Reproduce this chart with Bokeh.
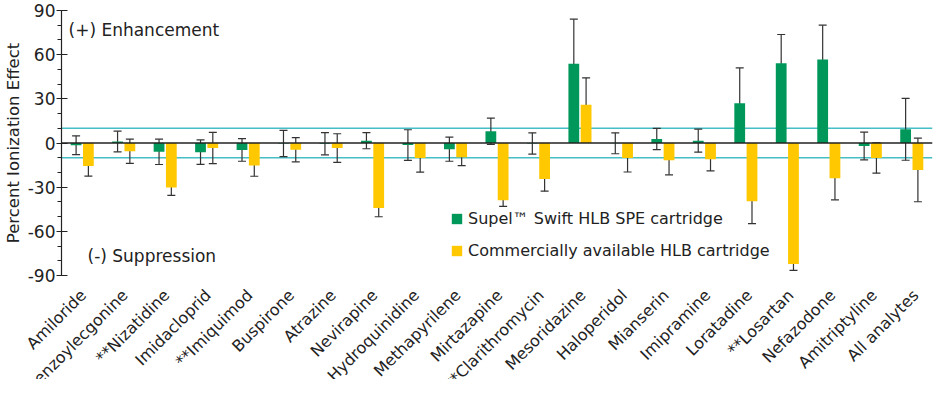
import math
from bokeh.plotting import figure
from bokeh.models import (ColumnDataSource, Whisker, TeeHead, Span, Label, Legend,
                          LegendItem, FixedTicker, Range1d)
from bokeh.core.properties import value
from bokeh.transform import dodge
from bokeh.embed import file_html
from bokeh.resources import INLINE

cats = ["Amiloride", "Benzoylecgonine", "**Nizatidine", "Imidacloprid", "**Imiquimod",
        "Buspirone", "Atrazine", "Nevirapine", "Hydroquinidine", "Methapyrilene",
        "Mirtazapine", "**Clarithromycin", "Mesoridazine", "Haloperidol", "Mianserin",
        "Imipramine", "Loratadine", "**Losartan", "Nefazodone", "Amitriptyline",
        "All analytes"]
supel = [-1.5, 1, -6, -6.2, -4.7, -0.3, -0.5, 1.6, -1.4, -4.2, 8, -0.3, 53.8,
         -0.2, 2.7, 1.6, 27, 54.2, 56.8, -2, 9.3]
supel_err = [6.4, 7, 8.6, 8.3, 7.7, 8.9, 7.5, 5.5, 10.4, 8.2, 8.9, 7.2, 30.3,
             7.1, 7.2, 7.8, 24, 19.5, 23.2, 9.4, 21]
comm = [-15.7, -5.6, -30.3, -3.4, -15.3, -4.6, -3.4, -44.1, -10.2, -9.6, -38.9,
        -24.4, 26, -10.2, -11.7, -11, -39.5, -82.2, -24, -10.2, -18.3]
comm_err = [6.8, 8.3, 5.3, 10.6, 7.3, 8.2, 9.7, 6, 9.6, 5.8, 4.2, 8.3, 18.3,
            9.5, 9.9, 8, 15.2, 4.3, 14.6, 10.3, 21.6]
y_ticks = [-90, -60, -30, 0, 30, 60, 90]
y_tick_labels = ["-90", "-60", "-30", "0", "30", "60", "90"]
y_minor = [-80, -70, -50, -40, -20, -10, 10, 20, 40, 50, 70, 80]
series_names = ["Supel\u2122 Swift HLB SPE cartridge", "Commercially available HLB cartridge"]

GREEN = "#00985A"
YELLOW = "#FFC800"
CYAN = "#45BEC4"
FONT = "DejaVu Sans"
INK = "#222222"
W = 934
LEFT = 58
RIGHT = 2
TOP_H = 285
LAB_H = 94

src = ColumnDataSource(dict(
    cats=cats, supel=supel, comm=comm,
    s_up=[v + e for v, e in zip(supel, supel_err)],
    s_lo=[v - e for v, e in zip(supel, supel_err)],
    c_up=[v + e for v, e in zip(comm, comm_err)],
    c_lo=[v - e for v, e in zip(comm, comm_err)],
))

p = figure(x_range=cats, y_range=(-90, 90), width=W, height=TOP_H,
           x_axis_location=None,
           output_backend="svg", toolbar_location=None,
           min_border_top=10, min_border_right=RIGHT, min_border_left=LEFT,
           min_border_bottom=10)
p.outline_line_color = None
p.xgrid.grid_line_color = None
p.ygrid.grid_line_color = None
p.x_range.range_padding = 0

# +/-10 reference lines
for loc in (10, -10):
    p.add_layout(Span(location=loc, dimension="width", line_color=CYAN,
                      line_width=1.5, level="underlay"))

off = 0.148
bw = 0.26
r1 = p.vbar(x=dodge("cats", -off, range=p.x_range), top="supel", bottom=0, width=bw,
            source=src, fill_color=GREEN, line_color=None)
r2 = p.vbar(x=dodge("cats", off, range=p.x_range), top="comm", bottom=0, width=bw,
            source=src, fill_color=YELLOW, line_color=None)

p.add_layout(Span(location=0, dimension="width", line_color=INK, line_width=1.5))

for key, o in (("s", -off), ("c", off)):
    w = Whisker(base=dodge("cats", o, range=p.x_range), upper=key + "_up", lower=key + "_lo",
                source=src, line_color="#333333", line_width=1.2,
                upper_head=TeeHead(size=8, line_color="#333333", line_width=1.2),
                lower_head=TeeHead(size=8, line_color="#333333", line_width=1.2))
    p.add_layout(w)

# y axis
yax = p.yaxis[0]
yax.ticker = FixedTicker(ticks=y_ticks, minor_ticks=y_minor)
yax.major_label_overrides = {t: s for t, s in zip(y_ticks, y_tick_labels)}
yax.axis_label = "Percent Ionization Effect"
yax.axis_label_text_font = FONT
yax.axis_label_text_font_size = "16.5px"
yax.axis_label_text_font_style = "normal"
yax.axis_label_text_color = INK
yax.axis_label_standoff = 2
yax.major_label_text_font = FONT
yax.major_label_text_font_size = "17px"
yax.major_label_text_color = INK
yax.major_label_standoff = 1
yax.major_tick_in = 6
yax.major_tick_out = 5
yax.minor_tick_in = 0
yax.minor_tick_out = 4
yax.axis_line_color = INK
yax.major_tick_line_color = INK
yax.minor_tick_line_color = INK
yax.axis_line_width = 1.2

# annotations
p.add_layout(Label(x=7, y=77, x_units="screen", text="(+) Enhancement",
                   text_font=FONT, text_font_size="17px", text_color=INK,
                   text_baseline="middle"))
p.add_layout(Label(x=26, y=-76.5, x_units="screen", text="(-) Suppression",
                   text_font=FONT, text_font_size="17px", text_color=INK,
                   text_baseline="middle"))

legend = Legend(items=[LegendItem(label=series_names[0], renderers=[r1]),
                       LegendItem(label=series_names[1], renderers=[r2])],
                location=(389, 15), orientation="vertical",
                glyph_width=13, glyph_height=13, label_height=13, spacing=13,
                padding=0, margin=0, label_standoff=5,
                label_text_font=FONT, label_text_font_size="16px",
                label_text_color=INK,
                border_line_color=None, background_fill_alpha=0)
p.add_layout(legend)

# category labels: a separate strip below the chart whose frame reaches the
# left edge, in the same units as the categorical scale (one unit per category)
n = len(cats)
frame_w = W - LEFT - RIGHT
lab = figure(x_range=Range1d(-LEFT * n / frame_w, n), y_range=Range1d(0, LAB_H),
             width=W, height=LAB_H, x_axis_location=None, y_axis_location=None,
             output_backend="svg", toolbar_location=None,
             min_border_top=0, min_border_right=RIGHT, min_border_left=0,
             min_border_bottom=0)
lab.grid.visible = False
lab.outline_line_color = None
lab_src = ColumnDataSource(dict(pos=[i + 0.5 for i in range(n)], name=cats))
lab.text(x="pos", y=LAB_H - 7, text="name", source=lab_src, angle=math.pi / 4,
         x_offset=4, text_align="right", text_baseline="middle",
         text_font=value(FONT), text_font_size="16px", text_color=INK)

open("out.html", "w").write(file_html([p, lab], INLINE))
